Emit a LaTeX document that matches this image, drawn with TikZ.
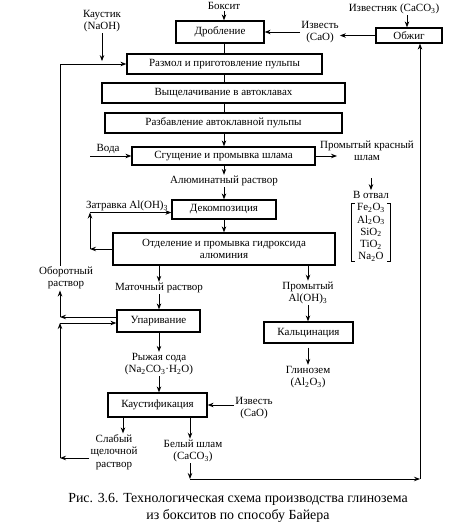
\documentclass[tikz,border=0pt]{standalone}
\usepackage{fontspec}
\setmainfont{Liberation Serif}
\usetikzlibrary{arrows.meta}
\tikzset{
  box/.style={draw, line width=1.2pt, minimum width=#1, inner sep=0pt, align=center, font=\fontsize{11}{12.3}\selectfont},
  lbl/.style={inner sep=1pt, align=center, font=\fontsize{11}{12.3}\selectfont},
  arr/.style={line width=0.9pt, -{Stealth[length=6pt,width=4.5pt]}},
  ln/.style={line width=0.9pt},
}
\begin{document}
\begin{tikzpicture}[x=1pt,y=-1pt]
\useasboundingbox[fill=white] (0,0) rectangle (474,527);
% boxes
\node[box=88pt, minimum height=22pt] (drob) at (220,32) {Дробление};
\node[box=66pt, minimum height=15pt] (obzh) at (409,35.5) {Обжиг};
\node[box=195pt, minimum height=20pt] (razm) at (224.5,64) {Размол и приготовление пульпы};
\node[box=243pt, minimum height=20pt] (vysh) at (223.5,93) {Выщелачивание в автоклавах};
\node[box=237pt, minimum height=20pt] (razb) at (223.5,123) {Разбавление автоклавной пульпы};
\node[box=183pt, minimum height=18pt] (sgush) at (223.5,156) {Сгущение и промывка шлама};
\node[box=104pt, minimum height=19pt] (dek) at (224,209.5) {Декомпозиция};
\node[box=222pt, minimum height=32pt] (otd) at (224,249) {Отделение и промывка гидроксида\\алюминия};
\node[box=83pt, minimum height=22pt] (upar) at (158.5,321) {Упаривание};
\node[box=89pt, minimum height=21pt] (kalc) at (308.5,332.5) {Кальцинация};
\node[box=99pt, minimum height=24pt] (kaust) at (157.5,405) {Каустификация};
% labels
\node[lbl] (boksit) at (224,6) {Боксит};
\node[lbl] (kaustik) at (102,21) {Каустик\\(NaOH)};
\node[lbl] (izv1) at (320,32) {Известь\\(CaO)};
\node[lbl] (izvnyak) at (394,9) {Известняк (CaCO\textsubscript{3})};
\node[lbl] (voda) at (108,149) {Вода};
\node[lbl] (krasny) at (367,151) {Промытый красный\\шлам};
\node[lbl] (alum) at (224,181) {Алюминатный раствор};
\node[lbl] (zatr) at (127,206) {Затравка Al(OH)\textsubscript{3}};
\node[lbl] (votval) at (371,195) {В отвал};
\node[lbl, inner xsep=0pt, inner ysep=0pt, minimum width=38pt] (list) at (371,232.5)
  {Fe\textsubscript{2}O\textsubscript{3}\\Al\textsubscript{2}O\textsubscript{3}\\SiO\textsubscript{2}\\TiO\textsubscript{2}\\Na\textsubscript{2}O};
\node[lbl] (oborot) at (66,278) {Оборотный\\раствор};
\node[lbl] (matoch) at (159,288) {Маточный раствор};
\node[lbl] (promyt) at (308,293) {Промытый\\Al(OH)\textsubscript{3}};
\node[lbl] (glinozem) at (308,377) {Глинозем\\(Al\textsubscript{2}O\textsubscript{3})};
\node[lbl] (ryzh) at (159,364) {Рыжая сода\\(Na\textsubscript{2}CO\textsubscript{3}·H\textsubscript{2}O)};
\node[lbl] (izv2) at (254,408) {Известь\\(CaO)};
\node[lbl] (slab) at (114,452) {Слабый\\щелочной\\раствор};
\node[lbl] (bely) at (193,451) {Белый шлам\\(CaCO\textsubscript{3})};
\node[align=center, inner sep=0pt, font=\fontsize{13.9}{16.5}\selectfont] (cap) at (238,508)
  {Рис. 3.6. Технологическая схема производства глинозема\\из бокситов по способу Байера};
% coordinates
\coordinate (spine) at (224,0);
\coordinate (colx) at (60,0);
\coordinate (colz) at (90,0);
\coordinate (colr) at (407,0);
\coordinate (v0) at (90,156);
\coordinate (k0) at (337,156);
\coordinate (vt0) at (371,178);
\coordinate (cb) at (190,479);
\coordinate (br) at (420,479);
% bracket
\draw[line width=0.8pt] ([xshift=3pt]list.north west) -- (list.north west) -- (list.south west) -- ++(3pt,0);
\draw[line width=0.8pt] ([xshift=-3pt]list.north east) -- (list.north east) -- (list.south east) -- ++(-3pt,0);
% main spine
\draw[arr] (boksit.south -| spine) -- (drob.north -| spine);
\draw[ln] (drob.south -| spine) -- (razm.north -| spine);
\draw[ln] (razm.south -| spine) -- (vysh.north -| spine);
\draw[ln] (vysh.south -| spine) -- (razb.north -| spine);
\draw[arr] (razb.south -| spine) -- (sgush.north -| spine);
\draw[arr] (sgush.south -| spine) -- (alum.north);
\draw[arr] (alum.south) -- (dek.north);
\draw[arr] (dek.south) -- (otd.north);
% top right
\draw[arr] (izvnyak.south -| colr) -- (obzh.north -| colr);
\draw[arr] (obzh.west) -- (obzh.west -| izv1.east);
\draw[arr] (drob.east -| izv1.west) -- (drob.east);
% caustic
\draw[arr] (kaustik.south) -- ++(0,28);
% left recycle
\draw[arr] (oborot.north -| colx) -- (colx |- razm.west) -- (razm.west);
\draw[arr] ([yshift=4pt]upar.west) -- ([yshift=4pt]upar.west -| colx);
\draw[arr] ([yshift=4pt]upar.west -| colx) -- (oborot.south -| colx);
\draw[arr] ([yshift=-6pt]slab.west) -- ([yshift=-6pt]slab.west -| colx);
\draw[arr] ([yshift=-6pt]slab.west -| colx) -- ([yshift=-2pt]upar.west -| colx);
\draw[arr] ([yshift=-2pt]upar.west -| colx) -- ([yshift=-2pt]upar.west);
% water and red mud
\draw[arr] (v0) -- (v0 -| sgush.west);
\draw[arr] (sgush.east) -- (k0);
\draw[arr] (vt0) -- (votval.north);
% seed loop
\draw[arr] (otd.west) -- (otd.west -| colz);
\draw[arr] (otd.west -| colz) -- ([yshift=-3pt]dek.west -| colz);
\draw[arr] ([yshift=-3pt]dek.west -| colz) -- ([yshift=-3pt]dek.west);
% lower branches
\draw[arr] (otd.south -| matoch) -- (matoch.north);
\draw[arr] (matoch.south) -- (upar.north -| matoch);
\draw[arr] (otd.south -| promyt) -- (promyt.north);
\draw[arr] (promyt.south) -- (kalc.north -| promyt);
\draw[arr] ([yshift=-4pt]kalc.south -| glinozem) -- (glinozem.north);
\draw[arr] (upar.south -| ryzh) -- (ryzh.north);
\draw[arr] (ryzh.south) -- (kaust.north -| ryzh);
\draw[arr] (kaust.east -| izv2.west) -- (kaust.east);
\draw[arr] ([xshift=-34.5pt]kaust.south) -- ([xshift=-34.5pt]kaust.south |- slab.north);
\draw[arr] ([xshift=32.5pt]kaust.south) -- ([xshift=32.5pt]kaust.south |- bely.north);
% bottom return to kiln
\draw[arr] (cb |- bely.south) -- (cb);
\draw[arr] (cb) -- (br);
\draw[arr] (br) -- (br |- obzh.south);
\end{tikzpicture}
\end{document}
